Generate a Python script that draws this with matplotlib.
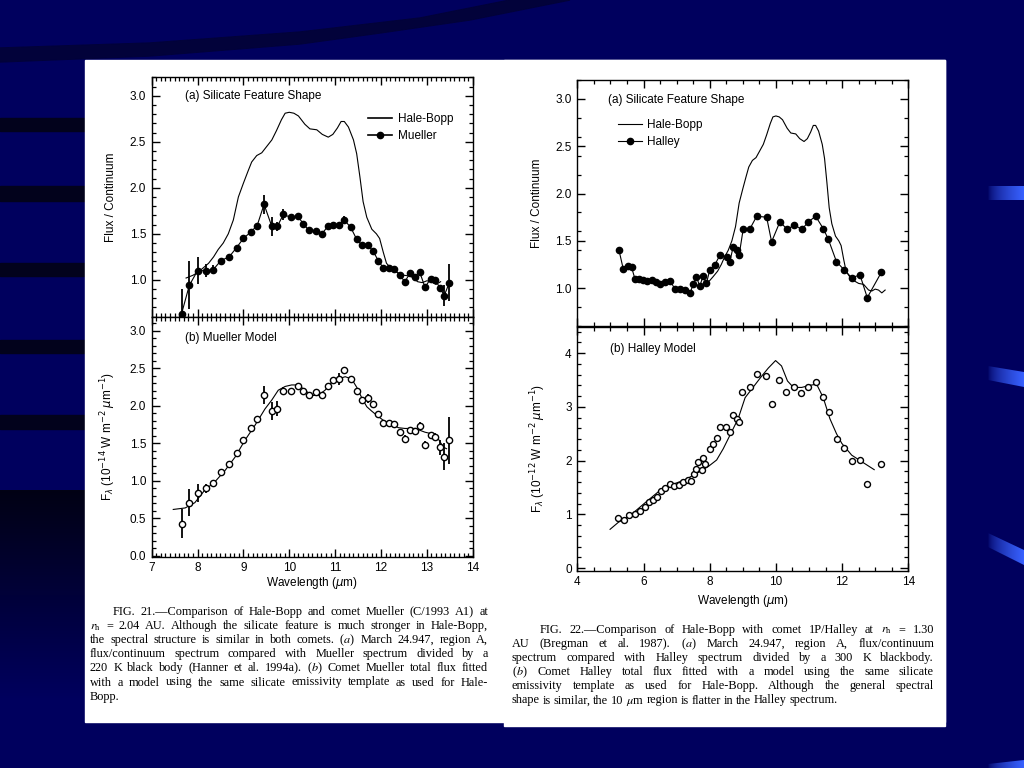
import numpy as np
import matplotlib
matplotlib.use("Agg")
import matplotlib.pyplot as plt
from matplotlib.ticker import MultipleLocator, FormatStrFormatter
from matplotlib.lines import Line2D
from matplotlib.patches import Polygon, Rectangle

# ---------------- data ----------------
# Hale-Bopp flux / continuum (March 24.947, region A)
hb_wave = [7.75, 7.9, 8.0, 8.1, 8.24, 8.35, 8.45, 8.56, 8.67, 8.78, 8.89, 9.0, 9.1, 9.18,
           9.29, 9.4, 9.51, 9.62, 9.72, 9.83, 9.91, 10.0, 10.1, 10.2, 10.34, 10.45, 10.6,
           10.72, 10.85, 10.95, 11.05, 11.13, 11.2, 11.29, 11.4, 11.47, 11.54, 11.61, 11.69,
           11.8, 11.9, 11.97, 12.05, 12.12, 12.23, 12.35, 12.5, 12.65, 12.8, 12.9, 13.0,
           13.1, 13.2, 13.3]
hb_ratio = [1.02, 1.05, 1.08, 1.12, 1.18, 1.25, 1.33, 1.40, 1.50, 1.65, 1.90, 2.05, 2.18, 2.28,
            2.35, 2.38, 2.45, 2.52, 2.62, 2.74, 2.81, 2.82, 2.81, 2.78, 2.69, 2.64, 2.63,
            2.58, 2.55, 2.58, 2.65, 2.72, 2.72, 2.66, 2.52, 2.37, 2.12, 1.85, 1.68,
            1.55, 1.50, 1.45, 1.30, 1.18, 1.12, 1.08, 1.05, 1.04, 0.98, 0.97, 0.99,
            0.98, 0.95, 0.98]

# Comet Mueller
mu_wave = [7.65, 7.82, 8.0, 8.18, 8.34, 8.51, 8.69, 8.85, 9.0, 9.16, 9.3, 9.45, 9.62, 9.74,
           9.87, 10.03, 10.18, 10.31, 10.42, 10.58, 10.71, 10.84, 10.96, 11.08, 11.2, 11.34,
           11.47, 11.58, 11.71, 11.83, 11.94, 12.05, 12.17, 12.29, 12.41, 12.52, 12.63,
           12.74, 12.84, 12.96, 13.08, 13.18, 13.29, 13.38, 13.49]
mu_ratio = [0.63, 0.94, 1.10, 1.10, 1.11, 1.21, 1.25, 1.35, 1.45, 1.52, 1.59, 1.82, 1.58, 1.58,
            1.71, 1.68, 1.69, 1.61, 1.54, 1.53, 1.50, 1.58, 1.60, 1.60, 1.65, 1.57,
            1.44, 1.38, 1.38, 1.31, 1.21, 1.13, 1.13, 1.12, 1.05, 0.98, 1.07,
            1.03, 1.09, 0.92, 1.01, 1.00, 0.91, 0.83, 0.97]
mu_ratio_err = [0.27, 0.26, 0.15, 0.07, 0.05, 0.03, 0.03, 0.03, 0.03, 0.03, 0.03, 0.10, 0.10, 0.05,
                0.06, 0.03, 0.03, 0.03, 0.03, 0.03, 0.03, 0.03, 0.03, 0.03, 0.04, 0.03,
                0.03, 0.03, 0.03, 0.03, 0.03, 0.03, 0.03, 0.03, 0.03, 0.03, 0.03,
                0.03, 0.03, 0.03, 0.03, 0.03, 0.03, 0.11, 0.20]
mu_flux = [0.43, 0.71, 0.84, 0.90, 0.97, 1.12, 1.22, 1.37, 1.54, 1.70, 1.83, 2.15, 1.93, 1.96,
           2.20, 2.20, 2.26, 2.20, 2.14, 2.18, 2.14, 2.26, 2.35, 2.36, 2.48, 2.36,
           2.20, 2.08, 2.10, 2.02, 1.89, 1.77, 1.77, 1.76, 1.65, 1.56, 1.68,
           1.66, 1.73, 1.48, 1.61, 1.59, 1.45, 1.32, 1.54]
mu_flux_err = [0.19, 0.18, 0.12, 0.06, 0.03, 0.03, 0.03, 0.03, 0.03, 0.03, 0.03, 0.12, 0.12, 0.10,
               0.05, 0.03, 0.03, 0.03, 0.03, 0.03, 0.03, 0.03, 0.03, 0.08, 0.04, 0.03,
               0.03, 0.03, 0.06, 0.03, 0.03, 0.03, 0.03, 0.03, 0.03, 0.05, 0.03,
               0.03, 0.05, 0.05, 0.03, 0.05, 0.10, 0.18, 0.31]
mu_model_wave = [7.47, 7.73, 7.94, 8.16, 8.38, 8.6, 8.82, 9.03, 9.25, 9.47, 9.62, 9.76, 9.91,
                 10.05, 10.2, 10.34, 10.49, 10.63, 10.78, 10.92, 11.07, 11.22, 11.36, 11.47,
                 11.58, 11.69, 11.8, 11.94, 12.09, 12.23, 12.38, 12.52, 12.74, 12.96, 13.1,
                 13.25, 13.36, 13.43]
mu_model_flux = [0.62, 0.64, 0.71, 0.88, 0.99, 1.14, 1.32, 1.54, 1.74, 1.96, 2.08, 2.21, 2.26,
                 2.28, 2.28, 2.21, 2.14, 2.14, 2.21, 2.31, 2.36, 2.39, 2.36, 2.25,
                 2.11, 1.99, 1.93, 1.86, 1.79, 1.76, 1.71, 1.70, 1.70, 1.65, 1.63,
                 1.56, 1.45, 1.43]

# Comet 1P/Halley
ha_wave = [5.26, 5.39, 5.52, 5.64, 5.74, 5.87, 5.99, 6.12, 6.25, 6.37, 6.51, 6.65, 6.8, 6.95,
           7.1, 7.25, 7.41, 7.5, 7.6, 7.7, 7.8, 7.9, 8.0, 8.16, 8.31, 8.51, 8.61, 8.71, 8.81,
           8.89, 9.01, 9.22, 9.42, 9.72, 9.87, 10.12, 10.35, 10.56, 10.78, 10.98, 11.2,
           11.43, 11.58, 11.83, 12.07, 12.29, 12.54, 12.76, 13.19]
ha_ratio = [1.40, 1.20, 1.23, 1.22, 1.10, 1.10, 1.09, 1.08, 1.09, 1.06, 1.04, 1.06, 1.08, 0.99,
            0.99, 0.98, 0.95, 1.04, 1.12, 1.02, 1.13, 1.05, 1.19, 1.25, 1.35, 1.33, 1.28, 1.44,
            1.40, 1.35, 1.62, 1.63, 1.76, 1.75, 1.49, 1.70, 1.62, 1.67, 1.62, 1.70, 1.76,
            1.63, 1.52, 1.28, 1.19, 1.11, 1.14, 0.90, 1.17]
ha_flux_wave = [5.24, 5.42, 5.56, 5.74, 5.89, 6.04, 6.17, 6.3, 6.4, 6.53, 6.65, 6.8, 6.93, 7.07,
                7.2, 7.33, 7.43, 7.53, 7.6, 7.66, 7.76, 7.81, 7.86, 8.01, 8.11, 8.21, 8.31,
                8.49, 8.61, 8.69, 8.81, 8.89, 8.99, 9.22, 9.42, 9.7, 9.87, 10.1, 10.32, 10.54,
                10.75, 10.98, 11.2, 11.41, 11.6, 11.84, 12.06, 12.31, 12.54, 12.76, 13.19]
ha_flux = [0.93, 0.89, 0.99, 1.01, 1.07, 1.13, 1.23, 1.26, 1.32, 1.44, 1.48, 1.56, 1.52, 1.55,
           1.60, 1.64, 1.61, 1.75, 1.84, 1.98, 1.83, 2.05, 1.93, 2.22, 2.30, 2.42, 2.62,
           2.62, 2.54, 2.84, 2.78, 2.71, 3.28, 3.36, 3.61, 3.58, 3.05, 3.50, 3.28, 3.36,
           3.25, 3.36, 3.46, 3.19, 2.90, 2.40, 2.24, 1.99, 2.01, 1.56, 1.94]
ha_model_wave = [4.99, 5.24, 5.64, 6.04, 6.45, 6.85, 7.25, 7.66, 7.96, 8.21, 8.41, 8.66, 8.86,
                 9.07, 9.27, 9.57, 9.77, 9.99, 10.17, 10.35, 10.53, 10.78, 11.03, 11.23,
                 11.43, 11.63, 11.83, 11.99, 12.29, 12.59, 12.97]
ha_model_flux = [0.72, 0.85, 1.00, 1.21, 1.42, 1.55, 1.64, 1.78, 1.89, 2.01, 2.22, 2.53, 2.78,
                 3.17, 3.33, 3.57, 3.72, 3.86, 3.76, 3.48, 3.36, 3.36, 3.40, 3.42,
                 3.17, 2.78, 2.50, 2.32, 2.10, 1.98, 1.83]

caption21 = [
    "FIG. 21.\u2014Comparison of Hale-Bopp and comet Mueller (C/1993 A1) at",
    r"$r_\mathrm{h}$ = 2.04 AU. Although the silicate feature is much stronger in Hale-Bopp,",
    r"the spectral structure is similar in both comets. ($a$) March 24.947, region A,",
    "flux/continuum spectrum compared with Mueller spectrum divided by a",
    r"220 K black body (Hanner et al. 1994a). ($b$) Comet Mueller total flux fitted",
    "with a model using the same silicate emissivity template as used for Hale-",
    "Bopp.",
]
caption22 = [
    "FIG. 22.\u2014Comparison of Hale-Bopp with comet 1P/Halley at $r_\\mathrm{h}$ = 1.30",
    r"AU (Bregman et al. 1987). ($a$) March 24.947, region A, flux/continuum",
    "spectrum compared with Halley spectrum divided by a 300 K blackbody.",
    r"($b$) Comet Halley total flux fitted with a model using the same silicate",
    "emissivity template as used for Hale-Bopp. Although the general spectral",
    r"shape is similar, the 10 $\mu$m region is flatter in the Halley spectrum.",
]

# ---------------- figure ----------------
W, H = 1024, 768
NAVY = "#00005e"
DARK = "#02021c"
fig = plt.figure(figsize=(W / 100, H / 100), dpi=100, facecolor=NAVY)

bg = fig.add_axes([0, 0, 1, 1], zorder=-10)
bg.set_xlim(0, W)
bg.set_ylim(H, 0)
bg.axis("off")
bg.add_patch(Rectangle((0, 0), W, H, color=NAVY, zorder=0))
# top curved dark band
bg.add_patch(Polygon([(0, 48), (150, 43), (300, 32), (420, 18), (510, 0), (570, 0),
                      (470, 20), (380, 33), (300, 44), (150, 56), (0, 62)],
                     closed=True, color="#02023a", zorder=1))
for y0, y1 in [(118, 131), (186, 201), (263, 276), (340, 353), (415, 429)]:
    bg.add_patch(Rectangle((0, y0), 90, y1 - y0, color=DARK, zorder=1))
# lower-left dark gradient
grad = np.zeros((100, 2, 4))
grad[..., 0] = 0.008
grad[..., 1] = 0.008
grad[..., 2] = 0.08
grad[..., 3] = np.linspace(1, 0, 100)[:, None]
bg.imshow(grad, extent=(0, 90, 700, 490), aspect="auto", zorder=1, interpolation="bilinear")
# right bright stripes
hg = np.zeros((2, 100, 3))
c0 = np.array([0.0, 0.0, 0.37])
c1 = np.array([0.22, 0.38, 1.0])
t = np.linspace(0, 1, 100) ** 0.6
hg[:] = c0[None, None, :] * (1 - t)[None, :, None] + c1[None, None, :] * t[None, :, None]
for poly in [[(988, 186), (1024, 186), (1024, 200), (988, 200)],
             [(988, 366), (1024, 372), (1024, 387), (988, 380)],
             [(988, 533), (1024, 550), (1024, 565), (988, 547)],
             [(988, 764), (1024, 760), (1024, 768), (988, 768)]]:
    p = Polygon(poly, closed=True, facecolor="none", edgecolor="none")
    bg.add_patch(p)
    im = bg.imshow(hg, extent=(988, 1024, 768, 0), aspect="auto", zorder=2)
    im.set_clip_path(p)
# white paper
bg.add_patch(Rectangle((85, 60), 860, 662, color="white", zorder=3))
bg.add_patch(Rectangle((504, 60), 441, 666, color="white", zorder=3))
bg.set_xlim(0, W)
bg.set_ylim(H, 0)

plt.rcParams["font.family"] = ["Liberation Sans", "DejaVu Sans"]
FS = 8.5


def px_axes(x0, y0, x1, y1):
    return fig.add_axes([x0 / W, 1 - y1 / H, (x1 - x0) / W, (y1 - y0) / H])


def style(ax, xmaj, xmin, ymaj, ymin):
    ax.xaxis.set_major_locator(MultipleLocator(xmaj))
    ax.xaxis.set_minor_locator(MultipleLocator(xmin))
    ax.yaxis.set_major_locator(MultipleLocator(ymaj))
    ax.yaxis.set_minor_locator(MultipleLocator(ymin))
    ax.tick_params(which="both", direction="in", top=True, right=True, labelsize=FS,
                   width=1.0, colors="black", pad=4)
    ax.tick_params(which="major", length=6)
    ax.tick_params(which="minor", length=3, width=0.9)
    for s in ax.spines.values():
        s.set_linewidth(1.0)
    ax.set_facecolor("white")


# ---- Fig 21 (a)
ax1 = px_axes(151.7, 77.3, 472.7, 316.7)
ax1.plot(hb_wave, hb_ratio, color="black", lw=0.8)
ax1.errorbar(mu_wave, mu_ratio, yerr=mu_ratio_err, color="black", lw=0.8, marker="o", ms=4.5,
             elinewidth=1.3, capsize=0)
ax1.set_xlim(7, 14)
ax1.set_ylim(0.6, 3.2)
style(ax1, 1, 0.1, 0.5, 0.1)
ax1.tick_params(labelbottom=False)
ax1.yaxis.set_major_formatter(FormatStrFormatter("%.1f"))
ax1.text(0.105, 0.92, "(a) Silicate Feature Shape", transform=ax1.transAxes, fontsize=FS,
         va="center")
ax1.legend([Line2D([], [], color="black", lw=1.2),
            Line2D([], [], color="black", lw=1.2, marker="o", ms=4.5)],
           ["Hale-Bopp", "Mueller"], loc="upper left", bbox_to_anchor=(0.66, 0.87),
           frameon=False, fontsize=FS, handlelength=2.0, handletextpad=0.5, labelspacing=0.45,
           borderaxespad=0)
ax1.set_ylabel("Flux / Continuum", fontsize=FS)
ax1.yaxis.set_label_coords(-0.108, 0.5)

# ---- Fig 21 (b)
ax2 = px_axes(151.7, 316.7, 472.7, 556.7)
ax2.plot(mu_model_wave, mu_model_flux, color="black", lw=0.8)
ax2.errorbar(mu_wave, mu_flux, yerr=mu_flux_err, fmt="o", mfc="white", mec="black", ms=4.5,
             mew=1.0, ecolor="black", elinewidth=1.3, capsize=0)
ax2.set_xlim(7, 14)
ax2.set_ylim(-0.01, 3.19)
style(ax2, 1, 0.1, 0.5, 0.1)
ax2.yaxis.set_major_formatter(FormatStrFormatter("%.1f"))
ax2.text(0.105, 0.91, "(b) Mueller Model", transform=ax2.transAxes, fontsize=FS, va="center")
ax2.set_xlabel(r"Wavelength ($\mu$m)", fontsize=FS)
ax2.xaxis.set_label_coords(0.5, -0.075)
ax2.set_ylabel(r"F$_\lambda$ (10$^{-14}$ W m$^{-2}$ $\mu$m$^{-1}$)", fontsize=FS)
ax2.yaxis.set_label_coords(-0.105, 0.5)

# ---- Fig 22 (a)
ax3 = px_axes(577.3, 80, 908.3, 326)
ax3.plot(hb_wave, hb_ratio, color="black", lw=0.8)
ax3.plot(ha_wave, ha_ratio, color="black", lw=0.8, marker="o", ms=4.5)
ax3.set_xlim(4, 14)
ax3.set_ylim(0.6, 3.2)
style(ax3, 2, 0.5, 0.5, 0.2)
ax3.tick_params(labelbottom=False)
ax3.yaxis.set_major_formatter(FormatStrFormatter("%.1f"))
ax3.text(0.093, 0.92, "(a) Silicate Feature Shape", transform=ax3.transAxes, fontsize=FS,
         va="center")
ax3.legend([Line2D([], [], color="black", lw=0.8),
            Line2D([], [], color="black", lw=0.8, marker="o", ms=4.5)],
           ["Hale-Bopp", "Halley"], loc="upper left", bbox_to_anchor=(0.11, 0.86),
           frameon=False, fontsize=FS, handlelength=2.0, handletextpad=0.4, labelspacing=0.45,
           borderaxespad=0)
ax3.set_ylabel("Flux / Continuum", fontsize=FS)
ax3.yaxis.set_label_coords(-0.104, 0.5)

# ---- Fig 22 (b)
ax4 = px_axes(577.3, 326.7, 908.3, 570.7)
ax4.plot(ha_model_wave, ha_model_flux, color="black", lw=0.8)
ax4.plot(ha_flux_wave, ha_flux, ls="none", marker="o", mfc="white", mec="black", ms=4.3,
         mew=1.0)
ax4.set_xlim(4, 14)
ax4.set_ylim(-0.05, 4.49)
style(ax4, 2, 0.5, 1, 0.2)
ax4.text(0.1, 0.91, "(b) Halley Model", transform=ax4.transAxes, fontsize=FS, va="center")
ax4.set_xlabel(r"Wavelength ($\mu$m)", fontsize=FS)
ax4.xaxis.set_label_coords(0.5, -0.09)
ax4.set_ylabel(r"F$_\lambda$ (10$^{-12}$ W m$^{-2}$ $\mu$m$^{-1}$)", fontsize=FS)
ax4.yaxis.set_label_coords(-0.09, 0.5)

# ---------------- captions (justified) ----------------
renderer = fig.canvas.get_renderer()
CFS = 8.8


def caption(lines, x_left, x_right, x_indent, y_first, dy):
    for i, line in enumerate(lines):
        y = y_first + i * dy + 3
        x0 = x_indent if i == 0 else x_left
        words = line.split(" ")
        last = i == len(lines) - 1
        texts = []
        for w in words:
            tt = fig.text(0, 1 - y / H, w, fontsize=CFS, family="Liberation Serif",
                          math_fontfamily="stix", va="baseline", ha="left")
            texts.append(tt)
        widths = [tt.get_window_extent(renderer=renderer).width for tt in texts]
        space = 2.6
        if not last and len(words) > 1:
            space = max(1.2, (x_right - x0 - sum(widths)) / (len(words) - 1))
        x = x0
        for tt, wd in zip(texts, widths):
            tt.set_x(x / W)
            x += wd + space


caption(caption21, 90, 488, 113, 612, 14.1)
caption(caption22, 512, 934, 540, 630, 14.1)

fig.savefig("out.png", dpi=100, facecolor=NAVY)
